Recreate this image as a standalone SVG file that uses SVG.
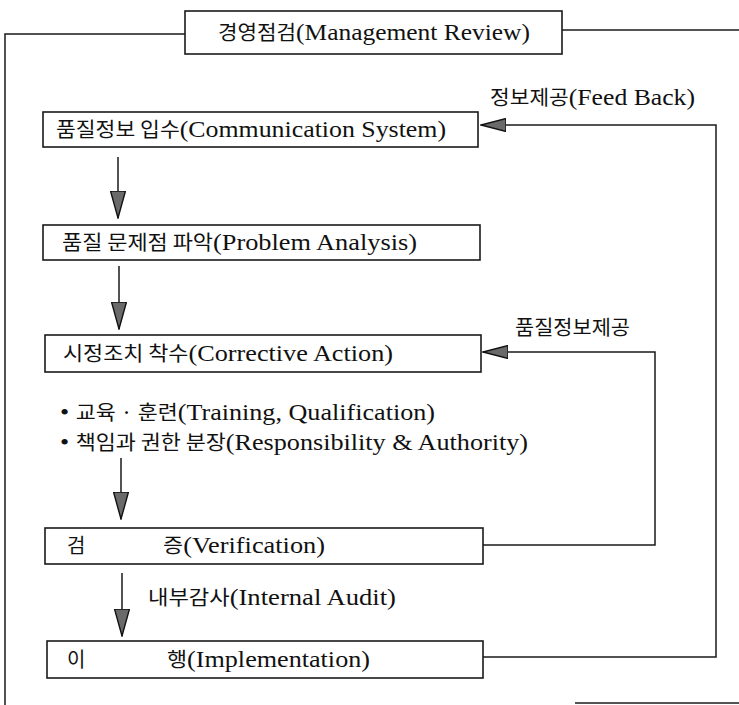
<svg xmlns="http://www.w3.org/2000/svg" width="739" height="705" viewBox="0 0 739 705">
<style>
  .box { fill: #fff; stroke: #1a1a1a; stroke-width: 1.6; }
  .ln { fill: none; stroke: #1a1a1a; stroke-width: 1.5; }
  .t { font-family: 'Liberation Serif', 'Noto Sans CJK KR', serif; font-size: 24px; fill: #111; }
  .k { font-family: 'Noto Sans CJK KR', sans-serif; font-size: 20px; }
</style>
<defs>
  <marker id="ahV" markerUnits="userSpaceOnUse" markerWidth="28" markerHeight="16" refX="27" refY="7.5" orient="auto">
    <path d="M0,0 L27,7.5 L0,15 Z" fill="#6a6a6a" stroke="#111" stroke-width="1.4"/>
  </marker>
  <marker id="ahH" markerUnits="userSpaceOnUse" markerWidth="26" markerHeight="14" refX="25" refY="6.5" orient="auto">
    <path d="M0,0 L25,6.5 L0,13 Z" fill="#6a6a6a" stroke="#111" stroke-width="1.4"/>
  </marker>
</defs>
<rect width="739" height="705" fill="#fff"/>

<g id="connectors">
  <polyline class="ln" points="185,34 5,34 5,705"/>
  <line class="ln" x1="562" y1="30" x2="739" y2="30"/>
  <line class="ln" x1="575" y1="703" x2="739" y2="703"/>
  <line class="ln" x1="118" y1="157" x2="118" y2="218" marker-end="url(#ahV)"/>
  <line class="ln" x1="119" y1="266" x2="119" y2="329" marker-end="url(#ahV)"/>
  <line class="ln" x1="121" y1="458" x2="121" y2="519" marker-end="url(#ahV)"/>
  <line class="ln" x1="122" y1="573" x2="122" y2="636" marker-end="url(#ahV)"/>
  <polyline class="ln" points="483,657 716,657 716,125 481,125" marker-end="url(#ahH)"/>
  <polyline class="ln" points="483,545 655,545 655,352 483,352" marker-end="url(#ahH)"/>
  <text class="t" x="490" y="105" textLength="205" lengthAdjust="spacingAndGlyphs"><tspan class="k">정보제공</tspan>(Feed Back)</text>
  <text class="t" x="515" y="335" textLength="115" lengthAdjust="spacingAndGlyphs"><tspan class="k">품질정보제공</tspan></text>
  <text class="t" x="148" y="605" textLength="248" lengthAdjust="spacingAndGlyphs"><tspan class="k">내부감사</tspan>(Internal Audit)</text>
</g>

<g id="review">
  <rect class="box" x="185" y="11" width="377" height="43"/>
  <text class="t" x="218" y="40" textLength="312" lengthAdjust="spacingAndGlyphs"><tspan class="k">경영점검</tspan>(Management Review)</text>
</g>

<g id="communication">
  <rect class="box" x="43" y="112" width="435" height="35"/>
  <text class="t" x="56" y="137" textLength="390" lengthAdjust="spacingAndGlyphs"><tspan class="k">품질정보 입수</tspan>(Communication System)</text>
</g>

<g id="analysis">
  <rect class="box" x="43" y="225" width="437" height="35"/>
  <text class="t" x="62" y="250" textLength="355" lengthAdjust="spacingAndGlyphs"><tspan class="k">품질 문제점 파악</tspan>(Problem Analysis)</text>
</g>

<g id="corrective">
  <rect class="box" x="45" y="335" width="436" height="37"/>
  <text class="t" x="63" y="361" textLength="330" lengthAdjust="spacingAndGlyphs"><tspan class="k">시정조치 착수</tspan>(Corrective Action)</text>
</g>

<g id="measures">
  <text class="t" x="60" y="420" textLength="375" lengthAdjust="spacingAndGlyphs">• <tspan class="k">교육 · 훈련</tspan>(Training, Qualification)</text>
  <text class="t" x="60" y="450" textLength="468" lengthAdjust="spacingAndGlyphs">• <tspan class="k">책임과 권한 분장</tspan>(Responsibility &amp; Authority)</text>
</g>

<g id="verification">
  <rect class="box" x="45" y="528" width="438" height="36"/>
  <text class="t" y="553"><tspan class="k" x="67">검</tspan><tspan x="163" textLength="162" lengthAdjust="spacingAndGlyphs"><tspan class="k">증</tspan>(Verification)</tspan></text>
</g>

<g id="implementation">
  <rect class="box" x="47" y="641" width="436" height="37"/>
  <text class="t" y="667"><tspan class="k" x="67">이</tspan><tspan x="167" textLength="203" lengthAdjust="spacingAndGlyphs"><tspan class="k">행</tspan>(Implementation)</tspan></text>
</g>
</svg>
